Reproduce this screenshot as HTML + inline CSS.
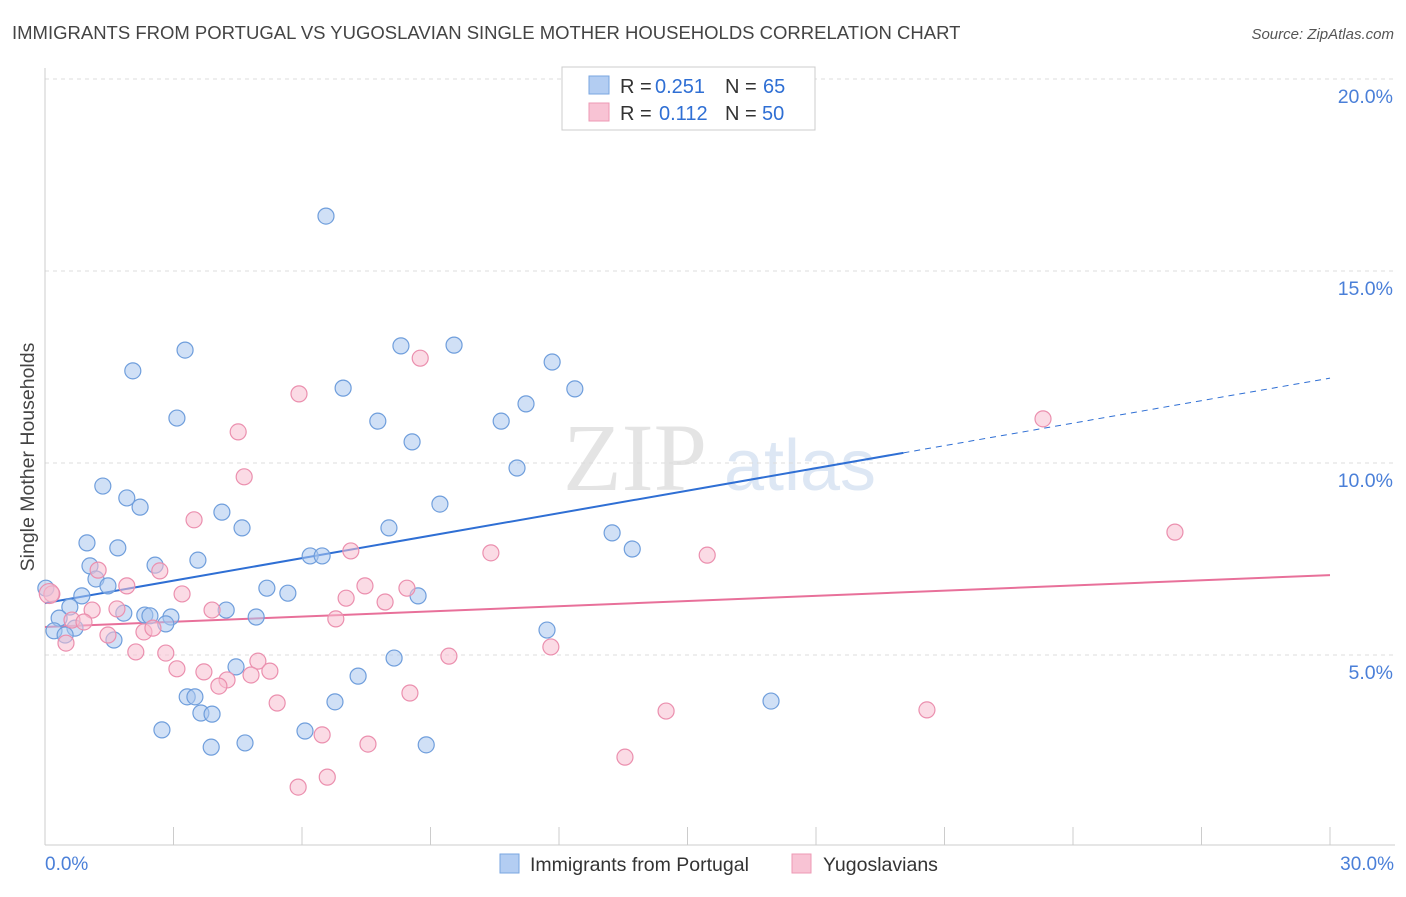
<!DOCTYPE html>
<html><head><meta charset="utf-8"><style>
body{margin:0;background:#fff;font-family:"Liberation Sans",sans-serif;}
</style></head><body>
<svg id="chart" width="1406" height="892" xmlns="http://www.w3.org/2000/svg" font-family="Liberation Sans, sans-serif">
<text x="12" y="39" font-size="18.5" fill="#444">IMMIGRANTS FROM PORTUGAL VS YUGOSLAVIAN SINGLE MOTHER HOUSEHOLDS CORRELATION CHART</text>
<text x="1394" y="39" font-size="15" fill="#555" text-anchor="end" font-style="italic">Source: ZipAtlas.com</text>
<text transform="translate(34,457) rotate(-90)" font-size="19.5" fill="#444" text-anchor="middle">Single Mother Households</text>
<g>
<text x="635" y="490" font-size="96" fill="#e4e4e4" text-anchor="middle" font-family="Liberation Serif, serif">ZIP</text>
<text x="800" y="490" font-size="72" fill="#dde7f4" text-anchor="middle">atlas</text>
</g>
<g id="grid"></g>
<g id="axes"></g>
<g id="lines"></g>
<g id="points"></g>
<g>
<rect x="562" y="67" width="253" height="63" fill="#fff" stroke="#ccc"/>
<rect x="589" y="76" width="20" height="18" fill="#b3cdf2" stroke="#7aa6e0"/>
<rect x="589" y="103" width="20" height="18" fill="#f8c3d4" stroke="#ee9ab4"/>
<text x="620" y="93" font-size="20" fill="#333">R =</text>
<text x="655" y="93" font-size="20" fill="#2f6fd4">0.251</text>
<text x="725" y="93" font-size="20" fill="#333">N =</text>
<text x="763" y="93" font-size="20" fill="#2f6fd4">65</text>
<text x="620" y="120" font-size="20" fill="#333">R =</text>
<text x="659" y="120" font-size="20" fill="#2f6fd4">0.112</text>
<text x="725" y="120" font-size="20" fill="#333">N =</text>
<text x="762" y="120" font-size="20" fill="#2f6fd4">50</text>
</g>
<g>
<rect x="500" y="854" width="19" height="19" fill="#b3cdf2" stroke="#7aa6e0"/>
<text x="530" y="871" font-size="19.5" fill="#333">Immigrants from Portugal</text>
<rect x="792" y="854" width="19" height="19" fill="#f8c3d4" stroke="#ee9ab4"/>
<text x="823" y="871" font-size="19.5" fill="#333">Yugoslavians</text>
</g>
</svg>
<script>
const blueX=[6.56,3.27,2.05,8.31,9.55,11.84,12.37,6.96,3.08,7.77,10.65,11.23,8.57,11.02,1.35,1.91,2.22,9.22,4.13,4.60,8.03,0.98,1.70,13.24,13.71,2.57,3.57,6.19,6.47,1.05,1.19,1.47,0.02,0.86,5.18,5.67,8.71,0.58,1.84,2.33,2.45,2.94,4.23,4.93,0.33,2.82,0.70,0.21,0.47,1.61,11.72,4.46,8.15,7.31,3.32,3.50,3.64,3.90,6.77,16.95,2.73,6.07,3.88,4.67,8.90];
const blueY=[16.43,12.94,12.40,13.05,13.07,12.63,11.93,11.95,11.17,11.09,11.09,11.54,10.55,9.87,9.40,9.09,8.85,8.93,8.72,8.31,8.31,7.92,7.79,8.18,7.76,7.34,7.47,7.58,7.58,7.32,6.98,6.80,6.74,6.54,6.74,6.61,6.54,6.25,6.09,6.04,6.02,5.99,6.17,5.99,5.96,5.81,5.70,5.63,5.52,5.39,5.65,4.69,4.92,4.45,3.91,3.91,3.49,3.46,3.78,3.80,3.05,3.02,2.60,2.71,2.66];
const pinkX=[8.76,5.93,4.51,23.30,4.65,3.48,26.38,7.14,10.41,15.46,2.68,1.24,1.91,7.47,8.45,3.20,7.03,7.94,0.16,1.10,1.68,3.90,6.79,0.63,0.91,2.31,2.52,1.47,0.49,2.12,2.82,11.81,9.43,3.08,3.71,4.97,5.25,4.81,4.25,4.06,8.52,5.42,14.50,20.59,6.47,7.54,13.54,6.59,5.91,0.10];
const pinkY=[12.73,11.80,10.81,11.15,9.64,8.52,8.20,7.71,7.66,7.60,7.19,7.21,6.80,6.80,6.74,6.59,6.48,6.38,6.59,6.17,6.20,6.17,5.94,5.91,5.86,5.60,5.70,5.52,5.31,5.08,5.05,5.21,4.97,4.64,4.56,4.84,4.58,4.48,4.35,4.19,4.01,3.75,3.54,3.57,2.92,2.68,2.34,1.82,1.56,6.60];
const yTicks=[5,10,15,20];
const yTickLabels=["5.0%","10.0%","15.0%","20.0%"];
const xTickVals=[0,3,6,9,12,15,18,21,24,27,30];
const blueTrend=[6.35,12.21];
const blueSolidEnd=20.04;
const pinkTrend=[5.73,7.08];
const NS="http://www.w3.org/2000/svg";
const sx=v=>45+v*(1285/30);
const sy=v=>847-v*38.4;
function mk(t,a,p){const e=document.createElementNS(NS,t);for(const k in a)e.setAttribute(k,a[k]);p.appendChild(e);return e;}
const grid=document.getElementById('grid'),axes=document.getElementById('axes'),lines=document.getElementById('lines'),pts=document.getElementById('points');
yTicks.forEach((v,i)=>{
 const l=mk('line',{x1:45,x2:1395,y1:sy(v),y2:sy(v),stroke:'#ddd','stroke-dasharray':'4,4'},grid);
 
 
 const t=mk('text',{x:1393,y:sy(v)+24,'font-size':19.5,fill:'#4a7fd8','text-anchor':'end'},axes);
 t.textContent=yTickLabels[i];
 
 
});
const ya=mk('line',{x1:45,x2:45,y1:68,y2:845,stroke:'#ccc'},axes);


const xa=mk('line',{x1:45,x2:1395,y1:845,y2:845,stroke:'#ccc'},axes);


xTickVals.forEach(v=>{
 const t=mk('line',{x1:sx(v),x2:sx(v),y1:827,y2:845,stroke:'#ccc'},axes);
 
 
});
const x0=mk('text',{x:45,y:870,'font-size':19,fill:'#4a7fd8'},axes);x0.textContent='0.0%';


const x1=mk('text',{x:1394,y:870,'font-size':19,fill:'#4a7fd8','text-anchor':'end'},axes);x1.textContent='30.0%';


function drawPts(X,Y,fill,stroke,name){X.forEach((x,i)=>{
 const c=mk('circle',{cx:sx(x),cy:sy(Y[i]),r:i===X.length-1&&name==='pink-point'?10:8,fill:fill,'fill-opacity':0.55,stroke:stroke,'stroke-width':1.2},pts);
 
 
});}
drawPts(blueX,blueY,'#a9c6ee','#6f9edc','blue-point');
drawPts(pinkX,pinkY,'#f7bdd0','#eb8fae','pink-point');
const bAt=x=>blueTrend[0]+(blueTrend[1]-blueTrend[0])*x/30;
const pAt=x=>pinkTrend[0]+(pinkTrend[1]-pinkTrend[0])*x/30;
const b1=mk('line',{x1:sx(0),y1:sy(bAt(0)),x2:sx(blueSolidEnd),y2:sy(bAt(blueSolidEnd)),stroke:'#2f6fd4','stroke-width':2},lines);


const b2=mk('line',{x1:sx(blueSolidEnd),y1:sy(bAt(blueSolidEnd)),x2:sx(30),y2:sy(bAt(30)),stroke:'#2f6fd4','stroke-width':1,'stroke-dasharray':'6,5'},lines);


const p1=mk('line',{x1:sx(0),y1:sy(pAt(0)),x2:sx(30),y2:sy(pAt(30)),stroke:'#e8709a','stroke-width':2},lines);


</script>
</body></html>
